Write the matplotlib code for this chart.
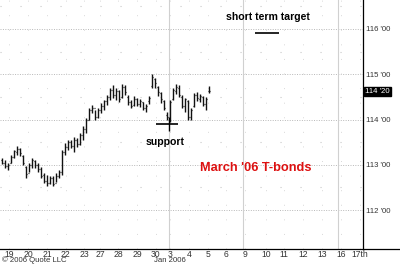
import numpy as np
import matplotlib
matplotlib.use("Agg")
import matplotlib.pyplot as plt
from matplotlib.lines import Line2D

plt.rcParams['font.family'] = ['Liberation Sans', 'DejaVu Sans']

# hourly OHLC bars, March '06 T-bond futures
highs = [113.15, 113.11, 113.04, 113.22, 113.33, 113.42, 113.37, 113.22, 112.97, 113.04,
         113.15, 113.11, 113.04, 112.95, 112.82, 112.78, 112.75, 112.75, 112.82, 112.89,
         113.33, 113.48, 113.55, 113.55, 113.62, 113.59, 113.70, 113.86, 114.03, 114.26,
         114.32, 114.21, 114.26, 114.37, 114.43, 114.54, 114.70, 114.76, 114.70, 114.65,
         114.79, 114.76, 114.54, 114.43, 114.52, 114.48, 114.45, 114.39, 114.34, 114.52,
         115.01, 114.92, 114.74, 114.61, 114.43, 114.17, 114.43, 114.70, 114.79, 114.76,
         114.54, 114.48, 114.43, 114.26, 114.59, 114.61, 114.56, 114.52, 114.50, 114.74]
lows = [113.02, 112.93, 112.89, 113.04, 113.15, 113.22, 113.20, 113.00, 112.71, 112.84,
        112.93, 112.93, 112.84, 112.71, 112.60, 112.53, 112.58, 112.53, 112.62, 112.71,
        112.78, 113.22, 113.33, 113.37, 113.28, 113.39, 113.44, 113.55, 113.70, 113.99,
        114.15, 113.99, 114.03, 114.15, 114.21, 114.32, 114.43, 114.48, 114.43, 114.39,
        114.48, 114.54, 114.32, 114.26, 114.30, 114.30, 114.28, 114.21, 114.17, 114.34,
        114.70, 114.70, 114.52, 114.37, 114.21, 113.99, 113.95, 114.43, 114.56, 114.50,
        114.26, 114.17, 113.99, 113.99, 114.28, 114.41, 114.39, 114.30, 114.21, 114.59]
opens = [113.10, 113.05, 112.98, 113.05, 113.18, 113.28, 113.35, 113.20, 112.95, 112.82,
         113.00, 113.08, 113.00, 112.90, 112.78, 112.65, 112.60, 112.70, 112.60, 112.75,
         112.85, 113.28, 113.40, 113.50, 113.42, 113.55, 113.45, 113.65, 113.80, 114.00,
         114.20, 114.25, 114.05, 114.20, 114.30, 114.40, 114.50, 114.65, 114.55, 114.62,
         114.50, 114.72, 114.50, 114.38, 114.32, 114.45, 114.35, 114.38, 114.25, 114.40,
         114.75, 114.90, 114.72, 114.58, 114.40, 114.10, 114.00, 114.45, 114.62, 114.70,
         114.50, 114.30, 114.40, 114.05, 114.30, 114.55, 114.45, 114.50, 114.35, 114.62]
closes = [113.05, 112.98, 113.00, 113.18, 113.30, 113.35, 113.25, 113.05, 112.80, 113.00,
          113.10, 113.00, 112.90, 112.75, 112.65, 112.60, 112.70, 112.58, 112.75, 112.85,
          113.28, 113.40, 113.50, 113.42, 113.55, 113.45, 113.65, 113.80, 114.00, 114.20,
          114.25, 114.05, 114.20, 114.30, 114.40, 114.50, 114.65, 114.55, 114.62, 114.45,
          114.72, 114.60, 114.38, 114.30, 114.45, 114.35, 114.40, 114.25, 114.30, 114.48,
          114.95, 114.80, 114.60, 114.45, 114.25, 114.05, 114.38, 114.65, 114.72, 114.55,
          114.30, 114.45, 114.05, 114.20, 114.55, 114.48, 114.52, 114.35, 114.45, 114.625]

# x axis: bar slots, labels per session
day_pos = [2.3, 8.7, 15, 21.3, 27.3, 32.7, 38.7, 45, 51.3, 56, 62.3, 68.7, 74.7,
           81, 88, 94, 100.3, 106.7, 113, 119.3]
day_labels = ['19', '20', '21', '22', '23', '27', '28', '29', '30', '3', '4', '5', '6',
              '9', '10', '11', '12', '13', '16', '17th']
week_lines = [55.7, 80.3, 112.0]

price_ticks = [112, 113, 114, 115, 116]
price_labels = ["112 '00", "113 '00", "114 '00", "115 '00", "116 '00"]
last_price = 114.625
last_label = "114 '20"

target_level = 115.92
target_span = (84.3, 92.3)
support_level = 113.90
support_span = (51.3, 58.7)
support_x = 55.7

fig = plt.figure(figsize=(4.0, 2.64), dpi=100)
ax = fig.add_axes([0.0, 1 - 249 / 264, 363 / 400, 249 / 264])

x = np.arange(len(highs))
ax.vlines(x, lows, highs, color='#111111', lw=1.0)
ax.hlines(opens, x - 0.45, x, color='#111111', lw=0.9)
ax.hlines(closes, x, x + 0.45, color='#111111', lw=0.9)

ax.set_xlim(-0.667, 120.33)
ax.set_ylim(111.14, 116.64)

for p in price_ticks:
    ax.axhline(p, color='#b8b8b8', lw=0.7, ls=(0, (1, 1.5)), zorder=0)
for p in price_ticks:
    ax.axhline(p + 0.5, color='#c8c8c8', lw=0.8, ls=(0, (1, 17)), zorder=0)
for d in week_lines:
    ax.axvline(d, color='#d0d0d0', lw=0.8, zorder=0)
for d in day_pos:
    ax.axvline(d, color='#d8d8d8', lw=0.7, ls=(0, (1, 14)), zorder=0)

ax.hlines(target_level, *target_span, color='black', lw=1.2)
ax.hlines(support_level, *support_span, color='black', lw=1.2)
ax.vlines(support_x, support_level - 0.15, support_level + 0.15, color='black', lw=1.0)

ax.text(88.7, 116.26, 'short term target', ha='center', va='center',
        fontsize=7.6, fontweight='bold', color='black')
ax.text(54.3, 113.50, 'support', ha='center', va='center',
        fontsize=7.6, fontweight='bold', color='black')
ax.text(66.0, 112.93, "March '06 T-bonds", ha='left', va='center',
        fontsize=9.2, fontweight='bold', color='#dd1111')

ax.yaxis.tick_right()
ax.set_yticks(price_ticks)
ax.set_yticklabels(price_labels, fontsize=5.6, color='#333333')
ax.tick_params(axis='y', length=0, pad=2)
ax.set_xticks(day_pos)
ax.set_xticklabels(day_labels, fontsize=6.2, color='#333333')
ax.tick_params(axis='x', length=0, pad=1.0)

ax.text(1.005, last_price, last_label, transform=ax.get_yaxis_transform(),
        ha='left', va='center', fontsize=5.6, color='white',
        bbox=dict(boxstyle='square,pad=0.15', fc='black', ec='black'))

for s in ['top', 'left']:
    ax.spines[s].set_visible(False)
ax.spines['right'].set_color('black')
ax.spines['right'].set_linewidth(0.9)
ax.spines['bottom'].set_visible(False)
fig.add_artist(Line2D([0, 1], [1 - 249 / 264] * 2, transform=fig.transFigure,
                      color='black', lw=0.9))

fig.text(2 / 400, 1 - 260.5 / 264, '\u00a9 2006 Quote LLC', fontsize=5.6,
         color='#333333', va='center', ha='left')
fig.text(170 / 400, 1 - 260.5 / 264, 'Jan 2006', fontsize=5.6,
         color='#333333', va='center', ha='center')

fig.savefig('out.png', dpi=100)
